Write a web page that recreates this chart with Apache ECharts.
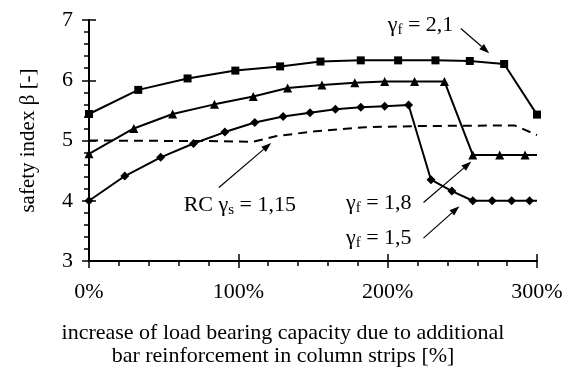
<!DOCTYPE html>
<html>
<head>
<meta charset="utf-8">
<script src="https://cdn.jsdelivr.net/npm/echarts@6/dist/echarts.min.js"></script>
<style>
  html, body { margin: 0; padding: 0; background: #fff; }
  #chart { width: 566px; height: 370px; }
</style>
</head>
<body>
<div id="chart"></div>
<script>
// x: increase of load bearing capacity [%], y: safety index beta [-]
const gammaF21 = [[0, 5.44], [33, 5.84], [66, 6.03], [98, 6.16], [128, 6.23], [155, 6.31], [182, 6.33], [207, 6.33], [232, 6.33], [255, 6.32], [278, 6.27], [300, 5.43]];
const gammaF18 = [[0, 4.78], [30, 5.2], [56, 5.44], [84, 5.6], [110, 5.73], [133, 5.87], [156, 5.92], [178, 5.96], [198, 5.98], [218, 5.98], [238, 5.98], [257, 4.76], [275, 4.76], [292, 4.76], [300, 4.76]];
const gammaF15 = [[0, 4.0], [24, 4.41], [48, 4.72], [70, 4.95], [91, 5.14], [111, 5.3], [130, 5.4], [148, 5.46], [165, 5.52], [182, 5.55], [198, 5.57], [214, 5.59], [229, 4.35], [243, 4.16], [257, 4.0], [270, 4.0], [283, 4.0], [295, 4.0], [300, 4.0]];
const rcSteel = [[0, 5.0], [80, 4.99], [110, 4.98], [125, 5.07], [150, 5.15], [185, 5.22], [220, 5.24], [285, 5.25], [300, 5.09]];

// annotations (label anchor + arrow from/to, in data units)
const notes = [
  { sub: 'f', val: '2,1', text: [222, 6.92], align: 'center', from: [249, 6.86], to: [268, 6.45] },
  { sub: 's', val: '1,15', pre: 'RC ', text: [101, 3.93], align: 'center', from: [87, 4.22], to: [122, 4.96] },
  { sub: 'f', val: '1,8', text: [216, 3.96], align: 'right', from: [224, 3.97], to: [256, 4.65] },
  { sub: 'f', val: '1,5', text: [216, 3.38], align: 'right', from: [224, 3.38], to: [248, 3.91] }
];

const FONT = '"Liberation Serif", "Times New Roman", serif';

const chart = echarts.init(document.getElementById('chart'));

// Os últimos pontos em 300% não têm marcador
function lastNoSymbol(arr) {
  return arr.map((p, i) => i === arr.length - 1 ? { value: p, symbol: 'none' } : p);
}

const lineSeries = (name, data, symbol, size) => ({
  name: name,
  type: 'line',
  data: data,
  symbol: symbol,
  symbolSize: size,
  showSymbol: true,
  itemStyle: { color: '#000' },
  lineStyle: { color: '#000', width: 2 },
  z: 3
});

const option = {
  animation: false,
  grid: { left: 89, right: 29, top: 20, bottom: 109, containLabel: false },
  xAxis: [{
    type: 'value', min: 0, max: 300, interval: 100,
    axisLine: { lineStyle: { color: '#000', width: 2 } },
    axisTick: { show: true, length: 7, lineStyle: { color: '#000', width: 1.5 } },
    minorTick: { show: true, splitNumber: 5, length: 5, lineStyle: { color: '#000', width: 1.5 } },
    axisLabel: { formatter: '{value}%', color: '#000', fontFamily: FONT, fontSize: 22, margin: 20 },
    splitLine: { show: false }
  }, {
    // inner halves of the crossing major ticks
    type: 'value', min: 0, max: 300, interval: 100, position: 'bottom',
    axisLine: { show: false },
    axisTick: { show: true, inside: true, length: 7, lineStyle: { color: '#000', width: 1.5 } },
    axisLabel: { show: false },
    splitLine: { show: false }
  }],
  yAxis: [{
    type: 'value', min: 3, max: 7, interval: 1,
    name: 'safety index \u03b2 [-]', nameLocation: 'middle', nameGap: 50,
    nameTextStyle: { color: '#000', fontFamily: FONT, fontSize: 21 },
    axisLine: { show: true, lineStyle: { color: '#000', width: 2 } },
    axisTick: { show: true, length: 7, lineStyle: { color: '#000', width: 1.5 } },
    minorTick: { show: true, splitNumber: 5, length: 5, lineStyle: { color: '#000', width: 1.5 } },
    axisLabel: { color: '#000', fontFamily: FONT, fontSize: 22, margin: 16 },
    splitLine: { show: false }
  }, {
    type: 'value', min: 3, max: 7, interval: 1, position: 'left',
    axisLine: { show: false },
    axisTick: { show: true, inside: true, length: 7, lineStyle: { color: '#000', width: 1.5 } },
    axisLabel: { show: false },
    splitLine: { show: false }
  }],
  series: [
    {
      name: 'RC', type: 'line', data: rcSteel, symbol: 'none',
      lineStyle: { color: '#000', width: 2, type: [9, 6] },
      z: 2
    },
    lineSeries('gf21', gammaF21, 'rect', 8),
    lineSeries('gf18', lastNoSymbol(gammaF18), 'triangle', 9),
    lineSeries('gf15', lastNoSymbol(gammaF15), 'diamond', 9)
  ]
};

chart.setOption(option);

// Anotações com setas
const graphics = [];
notes.forEach(n => {
  const tp = chart.convertToPixel({ xAxisIndex: 0, yAxisIndex: 0 }, n.text);
  const a = chart.convertToPixel({ xAxisIndex: 0, yAxisIndex: 0 }, n.from);
  const b = chart.convertToPixel({ xAxisIndex: 0, yAxisIndex: 0 }, n.to);
  graphics.push({
    type: 'text', x: tp[0], y: tp[1], z: 10,
    style: {
      text: (n.pre ? '{g|' + n.pre + '}' : '') + '{g|\u03b3}{s|' + n.sub + '}{g| = ' + n.val + '}',
      align: n.align, verticalAlign: 'middle',
      rich: {
        g: { fontFamily: FONT, fontSize: 22, lineHeight: 26, fill: '#000' },
        s: { fontFamily: FONT, fontSize: 15, lineHeight: 26, padding: [10, 0, 0, 0], fill: '#000' }
      }
    }
  });
  const ang = Math.atan2(b[1] - a[1], b[0] - a[0]);
  const L = 10, W = 3.5;
  const bx = b[0] - L * Math.cos(ang), by = b[1] - L * Math.sin(ang);
  graphics.push({
    type: 'line', z: 10,
    shape: { x1: a[0], y1: a[1], x2: bx, y2: by },
    style: { stroke: '#000', lineWidth: 1.2 }
  });
  graphics.push({
    type: 'polygon', z: 10,
    shape: { points: [
      [b[0], b[1]],
      [bx + W * Math.sin(ang), by - W * Math.cos(ang)],
      [bx - W * Math.sin(ang), by + W * Math.cos(ang)]
    ] },
    style: { fill: '#000' }
  });
});

// Título do eixo x, duas linhas
graphics.push({
  type: 'text', x: 283, y: 345, z: 10,
  style: {
    text: 'increase of load bearing capacity due to additional\nbar reinforcement in column strips [%]',
    align: 'center', verticalAlign: 'middle', lineHeight: 23,
    font: '22px ' + FONT, fill: '#000'
  }
});

chart.setOption({ graphic: graphics });
</script>
</body>
</html>
